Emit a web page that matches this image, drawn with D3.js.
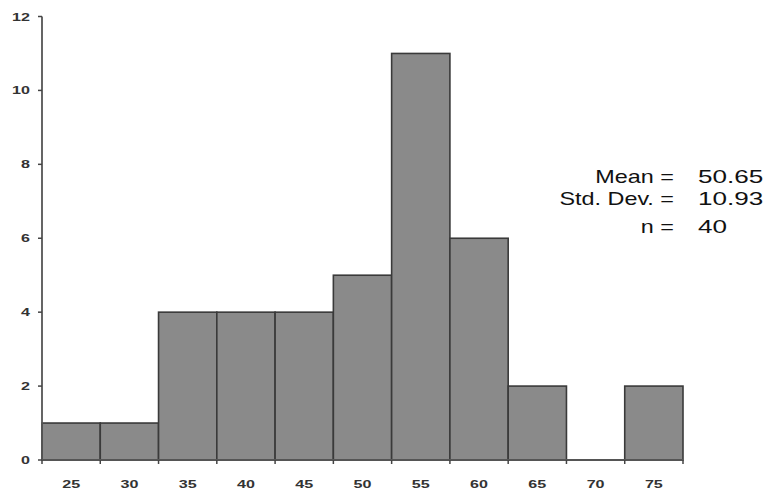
<!DOCTYPE html>
<html><head><meta charset="utf-8">
<script src="https://cdn.jsdelivr.net/npm/d3@7"></script>
<style>body{margin:0;background:#fff}svg{display:block}text{font-family:"Liberation Sans",Arial,sans-serif}</style>
</head><body>
<svg id="c" width="775" height="492"></svg>
<script>
const binCenters = [25,30,35,40,45,50,55,60,65,70,75];
const counts = [1,1,4,4,4,5,11,6,2,0,2];
const yTicks = [0,2,4,6,8,10,12];
const statLabels = ["Mean =","Std. Dev. =","n ="];
const statValues = ["50.65","10.93","40"];
const binWidth = 5;

const svg = d3.select("#c");
const x = d3.scaleLinear().domain([22.5,77.5]).range([42,683]);
const y = d3.scaleLinear().domain([0,12]).range([460,16.5]);
const SX = 1.4;

// bars
svg.append("g").selectAll("rect").data(binCenters.map((c,i)=>({c,v:counts[i]})).filter(d=>d.v>0))
  .join("rect")
  .attr("x",d=>x(d.c-binWidth/2)).attr("width",d=>x(d.c+binWidth/2)-x(d.c-binWidth/2))
  .attr("y",d=>y(d.v)).attr("height",d=>y(0)-y(d.v))
  .attr("fill","#8a8a8a").attr("stroke","#3a3a3a").attr("stroke-width",1.6);

// x axis
const edges = binCenters.map(c=>c-binWidth/2).concat([binCenters[binCenters.length-1]+binWidth/2]);
const gx = svg.append("g");
gx.append("line").attr("x1",x(22.5)).attr("x2",x(77.5)).attr("y1",y(0)).attr("y2",y(0))
  .attr("stroke","#555").attr("stroke-width",1.8);
gx.selectAll("line.t").data(edges).join("line").attr("class","t")
  .attr("x1",d=>x(d)).attr("x2",d=>x(d)).attr("y1",y(0)).attr("y2",y(0)+4)
  .attr("stroke","#444").attr("stroke-width",1.5);
gx.selectAll("text").data(binCenters).join("text")
  .attr("transform",d=>`translate(${x(d)},488) scale(${SX},1)`)
  .attr("text-anchor","middle").attr("font-size",11.5).attr("font-weight","bold").attr("fill","#333")
  .text(d=>d);

// y axis
const gy = svg.append("g");
gy.append("line").attr("x1",42).attr("x2",42).attr("y1",y(12)).attr("y2",y(0))
  .attr("stroke","#555").attr("stroke-width",1.8);
gy.selectAll("line.t").data(yTicks).join("line").attr("class","t")
  .attr("x1",38).attr("x2",42).attr("y1",d=>y(d)).attr("y2",d=>y(d))
  .attr("stroke","#444").attr("stroke-width",1.5);
gy.selectAll("text").data(yTicks).join("text")
  .attr("transform",d=>`translate(30,${y(d)+4}) scale(${SX},1)`)
  .attr("text-anchor","end").attr("font-size",11.5).attr("font-weight","bold").attr("fill","#333")
  .text(d=>d);

// stats
const gs = svg.append("g");
const rowY = [183,205,233];
gs.selectAll("text.l").data(statLabels).join("text").attr("class","l")
  .attr("transform",(d,i)=>`translate(674,${rowY[i]}) scale(1.3,1)`)
  .attr("text-anchor","end").attr("font-size",18).attr("fill","#111").text(d=>d);
gs.selectAll("text.v").data(statValues).join("text").attr("class","v")
  .attr("transform",(d,i)=>`translate(698,${rowY[i]}) scale(1.45,1)`)
  .attr("text-anchor","start").attr("font-size",18).attr("fill","#111").text(d=>d);
</script>
</body></html>
